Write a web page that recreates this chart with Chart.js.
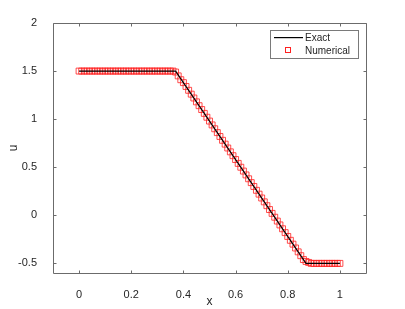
<!DOCTYPE html>
<html>
<head>
<meta charset="utf-8">
<script src="https://cdn.jsdelivr.net/npm/chart.js@4.4.1/dist/chart.umd.min.js"></script>
<style>
  html, body { margin: 0; padding: 0; background: #fff; }
  #wrap { width: 405px; height: 309px; }
</style>
</head>
<body>
<div id="wrap"><canvas id="chartU"></canvas></div>
<script>
// exact solution (corner points)
const exactX = [0, 0.37, 0.87, 1];
const exactU = [1.5, 1.5, -0.5, -0.5];

// numerical solution
const numX = [
  0, 0.01, 0.02, 0.03, 0.04, 0.05, 0.06, 0.07, 0.08, 0.09,
  0.1, 0.11, 0.12, 0.13, 0.14, 0.15, 0.16, 0.17, 0.18, 0.19,
  0.2, 0.21, 0.22, 0.23, 0.24, 0.25, 0.26, 0.27, 0.28, 0.29,
  0.3, 0.31, 0.32, 0.33, 0.34, 0.35, 0.36, 0.37, 0.38, 0.39,
  0.4, 0.41, 0.42, 0.43, 0.44, 0.45, 0.46, 0.47, 0.48, 0.49,
  0.5, 0.51, 0.52, 0.53, 0.54, 0.55, 0.56, 0.57, 0.58, 0.59,
  0.6, 0.61, 0.62, 0.63, 0.64, 0.65, 0.66, 0.67, 0.68, 0.69,
  0.7, 0.71, 0.72, 0.73, 0.74, 0.75, 0.76, 0.77, 0.78, 0.79,
  0.8, 0.81, 0.82, 0.83, 0.84, 0.85, 0.86, 0.87, 0.88, 0.89,
  0.9, 0.91, 0.92, 0.93, 0.94, 0.95, 0.96, 0.97, 0.98, 0.99,
  1
];
const numU = [
  1.5, 1.5, 1.5, 1.5, 1.5, 1.5, 1.5, 1.5, 1.5, 1.5,
  1.5, 1.5, 1.5, 1.5, 1.5, 1.5, 1.5, 1.5, 1.5, 1.5,
  1.5, 1.5, 1.5, 1.5, 1.5, 1.5, 1.5, 1.5, 1.5, 1.5,
  1.5, 1.5, 1.5, 1.5, 1.5, 1.5, 1.5, 1.49, 1.45, 1.41,
  1.38, 1.34, 1.30, 1.26, 1.22, 1.18, 1.14, 1.10, 1.06, 1.02,
  0.98, 0.94, 0.90, 0.86, 0.82, 0.78, 0.74, 0.70, 0.66, 0.62,
  0.58, 0.54, 0.50, 0.46, 0.42, 0.38, 0.34, 0.30, 0.26, 0.22,
  0.18, 0.14, 0.10, 0.06, 0.02, -0.02, -0.06, -0.10, -0.14, -0.18,
  -0.22, -0.26, -0.30, -0.34, -0.38, -0.42, -0.46, -0.48, -0.49, -0.5,
  -0.5, -0.5, -0.5, -0.5, -0.5, -0.5, -0.5, -0.5, -0.5, -0.5,
  -0.5
];

const xTicks = [0, 0.2, 0.4, 0.6, 0.8, 1];
const yTicks = [-0.5, 0, 0.5, 1, 1.5, 2];

const FONT = "'Liberation Sans', Arial, sans-serif";
const frameColor = '#6b6b6b';
const exactColor = '#000000';
const numColor = '#ff2020';

// box frame with inward ticks, octave style
const framePlugin = {
  id: 'frame',
  afterDatasetsDraw(chart) {
    const { ctx, chartArea: a, scales } = chart;
    const L = Math.round(a.left) + 0.5, R = Math.round(a.right) + 0.5;
    const T = Math.round(a.top) + 0.5, B = Math.round(a.bottom) + 0.5;
    ctx.save();
    ctx.strokeStyle = frameColor;
    ctx.lineWidth = 1;
    ctx.beginPath();
    ctx.rect(L, T, R - L, B - T);
    ctx.stroke();
    ctx.beginPath();
    scales.x.ticks.forEach(t => {
      const px = Math.round(scales.x.getPixelForValue(t.value)) + 0.5;
      ctx.moveTo(px, B); ctx.lineTo(px, B - 3);
      ctx.moveTo(px, T); ctx.lineTo(px, T + 3);
    });
    scales.y.ticks.forEach(t => {
      const py = Math.round(scales.y.getPixelForValue(t.value)) + 0.5;
      ctx.moveTo(L, py); ctx.lineTo(L + 3, py);
      ctx.moveTo(R, py); ctx.lineTo(R - 3, py);
    });
    ctx.stroke();
    ctx.restore();
  }
};

// legend box in the top right corner
const legendPlugin = {
  id: 'boxLegend',
  afterDraw(chart) {
    const { ctx, chartArea: a } = chart;
    const ds = chart.data.datasets;
    const bx = Math.round(a.right) - 96, by = Math.round(a.top) + 7;
    const bw = 88, bh = 28;
    ctx.save();
    ctx.fillStyle = '#fff';
    ctx.fillRect(bx, by, bw, bh);
    ctx.strokeStyle = '#7a7a7a';
    ctx.lineWidth = 1;
    ctx.strokeRect(bx + 0.5, by + 0.5, bw, bh);

    // Exact
    ctx.fillStyle = exactColor;
    ctx.fillRect(bx + 4, by + 7, 29, 1.2);
    // Numerical: red outlined square
    ctx.fillStyle = numColor;
    const sx = bx + 15, sy = by + 17, s = 6;
    ctx.fillRect(sx, sy, s, 1);
    ctx.fillRect(sx, sy + s - 1, s, 1);
    ctx.fillRect(sx, sy, 1, s);
    ctx.fillRect(sx + s - 1, sy, 1, s);

    ctx.fillStyle = '#262626';
    ctx.font = '10px ' + FONT;
    ctx.textBaseline = 'middle';
    ctx.fillText(ds[0].label, bx + 35, by + 8);
    ctx.fillText(ds[1].label, bx + 35, by + 21);
    ctx.restore();
  }
};

const ctx = document.getElementById('chartU').getContext('2d');

new Chart(ctx, {
  type: 'scatter',
  data: {
    datasets: [
      {
        label: 'Exact',
        data: exactX.map((x, i) => ({ x: x, y: exactU[i] })),
        showLine: true,
        borderColor: exactColor,
        borderWidth: 1.2,
        pointRadius: 0,
        fill: false,
        order: 1
      },
      {
        label: 'Numerical',
        data: numX.map((x, i) => ({ x: x, y: numU[i] })),
        showLine: false,
        pointStyle: 'rect',
        pointRadius: 4.2,
        borderColor: numColor,
        backgroundColor: 'rgba(0,0,0,0)',
        borderWidth: 0.8,
        order: 2
      }
    ]
  },
  options: {
    responsive: true,
    maintainAspectRatio: false,
    animation: false,
    layout: { padding: { left: 0, right: 39, top: 23, bottom: 0 } },
    plugins: {
      legend: { display: false },
      tooltip: { enabled: false }
    },
    scales: {
      x: {
        type: 'linear',
        min: -0.1,
        max: 1.1,
        afterBuildTicks: s => { s.ticks = xTicks.map(v => ({ value: v })); },
        afterFit: s => { s.height = 36; },
        grid: { display: false },
        border: { display: false },
        ticks: {
          color: '#262626',
          font: { family: FONT, size: 11 },
          padding: 7,
          maxRotation: 0,
          callback: v => String(v)
        },
        title: {
          display: true,
          text: 'x',
          color: '#262626',
          font: { family: FONT, size: 12 },
          padding: { top: 0, bottom: 0 }
        }
      },
      y: {
        type: 'linear',
        min: -0.6,
        max: 2,
        afterBuildTicks: s => { s.ticks = yTicks.map(v => ({ value: v })); },
        afterFit: s => { s.width = 53; },
        grid: { display: false },
        border: { display: false },
        ticks: {
          color: '#262626',
          font: { family: FONT, size: 11 },
          padding: 8,
          callback: v => String(v)
        },
        title: {
          display: true,
          text: 'u',
          color: '#262626',
          font: { family: FONT, size: 12 },
          padding: { top: 6, bottom: 0 }
        }
      }
    }
  },
  plugins: [framePlugin, legendPlugin]
});
</script>
</body>
</html>
